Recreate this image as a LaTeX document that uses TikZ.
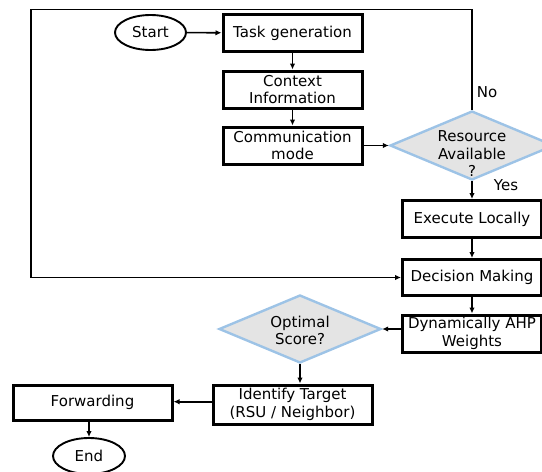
\documentclass[tikz,border=0pt]{standalone}
\usepackage{fontspec}
\setmainfont{DejaVu Sans}
\usetikzlibrary{shapes.geometric,arrows.meta}

\definecolor{decborder}{HTML}{9DC3E6}
\definecolor{decfill}{HTML}{E4E4E4}

\tikzset{
    every node/.style = {font = \fontsize{15}{17.5}\selectfont},
    procbox/.style = {draw, line width = 3pt, minimum width = 139pt, minimum height = 37pt, inner sep = 1.5pt, align = center},
    terminal/.style = {draw, ellipse, line width = 1.9pt, minimum width = 71pt, minimum height = 35pt, inner sep = 0pt},
    decision/.style = {draw = decborder, fill = decfill, diamond, line width = 2.4pt, inner sep = 0pt, minimum width = 164pt, minimum height = 69pt},
    flow/.style = {line width = 1.6pt, -{Latex[length=6pt,width=5.5pt]}}
}

\begin{document}
\begin{tikzpicture}[x = 1pt, y = -1pt]
%\draw [help lines] (0,0) grid[step=20] (542,472);
    \useasboundingbox (0,0) rectangle (542,472);
    % left column
    \node [terminal] (start) at (150.5,32.5) {Start};
    \node [procbox] (task) at (292.5,33) {Task generation};
    \node [procbox] (context) at (292.5,89.5) {Context\\Information};
    \node [procbox] (comm) at (292.5,145.5) {Communication\\mode};
    % resource check
    \node [decision] (res) at (472,145.5) {};
    \node [align = center] (restext) at (472,154) {Resource\\Available\\?};
    \node (no) at (487,92) {No};
    \node (yes) at (506,185) {Yes};
    % right column
    \node [procbox] (exec) at (472,219) {Execute Locally};
    \node [procbox, minimum height = 36pt] (dec) at (472,277.5) {Decision Making};
    \node [procbox] (ahp) at (472,333.5) {Dynamically AHP\\Weights};
    \node [decision, minimum width = 162pt, minimum height = 68pt] (opt) at (300,329) {};
    \node [align = center] (opttext) at (300,330.5) {Optimal\\Score?};
    % bottom row
    \node [procbox, minimum width = 159pt, minimum height = 39pt] (target) at (292.5,404.5) {Identify Target\\(RSU / Neighbor)};
    \node [procbox, minimum width = 159pt, minimum height = 35pt] (fwd) at (92.5,402.5) {Forwarding};
    \node [terminal, minimum width = 72pt, minimum height = 36pt] (end) at (89,456) {End};
    \coordinate (loopcorner) at (31,9.5);

    \draw [flow] (start) -- (task);
    \draw [flow] (task) -- (context);
    \draw [flow] (context) -- (comm);
    \draw [flow] (comm) -- (res.west);
    \draw [flow] (res.south) -- (exec);
    \draw [flow] (exec) -- (dec);
    \draw [flow] (dec) -- (ahp);
    \draw [flow] (ahp.west |- opt.east) -- (opt.east);
    \draw [flow] (opt.south) -- (opt.south |- target.north);
    \draw [flow] (target.west |- 0,401.7) -- (fwd.east |- 0,401.7);
    \draw [flow] (fwd.south -| end) -- (end);
    \draw [flow] (res.north) |- (loopcorner) |- (dec.west);
\end{tikzpicture}
\end{document}
